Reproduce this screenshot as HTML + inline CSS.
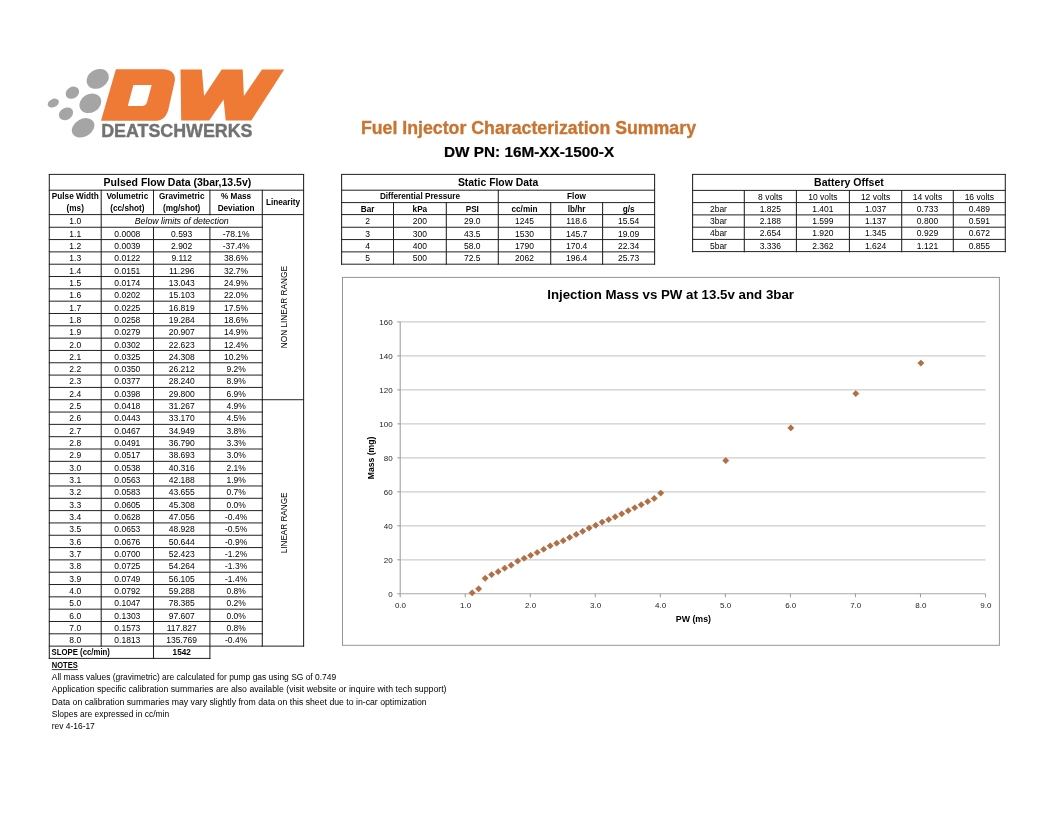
<!DOCTYPE html>
<html><head><meta charset="utf-8"><title>Fuel Injector Characterization Summary</title>
<style>
html,body{margin:0;padding:0;background:#fff;}
body{width:1056px;height:816px;overflow:hidden;}
svg{display:block;font-family:"Liberation Sans",Arial,sans-serif;}
</style></head><body>
<svg width="1056" height="816" viewBox="0 0 1056 816">
<rect width="1056" height="816" fill="#fff"/>
<ellipse cx="97.7" cy="78.9" rx="11.6" ry="9.3" fill="#a5a5a5" transform="rotate(-30 97.7 78.9)"/>
<ellipse cx="72.4" cy="92.7" rx="7.1" ry="5.7" fill="#a5a5a5" transform="rotate(-30 72.4 92.7)"/>
<ellipse cx="53.3" cy="103.1" rx="5.9" ry="4.1" fill="#a5a5a5" transform="rotate(-25 53.3 103.1)"/>
<ellipse cx="90.3" cy="103.3" rx="11.4" ry="9.2" fill="#a5a5a5" transform="rotate(-30 90.3 103.3)"/>
<ellipse cx="66" cy="113.8" rx="7.5" ry="5.9" fill="#a5a5a5" transform="rotate(-30 66 113.8)"/>
<ellipse cx="83.1" cy="127.8" rx="12" ry="8.8" fill="#a5a5a5" transform="rotate(-30 83.1 127.8)"/>
<path d="M115.9 69.2 L163.2 69.2 C171.5 69.2 176.2 74.5 174.7 81.6 L168.6 108.5 C167.2 115.5 162.8 120.8 156.5 120.8 L101.0 120.8 Z M133.4 85.0 L151.7 85.0 L147.2 101.5 C146.6 104.2 145.0 105.9 142.5 105.9 L127.8 105.9 Z" fill="#ee7a36" fill-rule="evenodd"/>
<path d="M180.5 69.4 L201.8 69.4 L204.1 96.0 L221.7 69.4 L242.7 69.4 L243.9 96.0 L262.0 69.4 L284.2 69.4 L251.3 120.5 L225.7 120.5 L223.6 99.5 L209.2 120.5 L181.2 120.5 Z" fill="#ee7a36"/>
<text x="101.2" y="136.8" font-size="18" font-weight="bold" fill="#717371" textLength="151.3" lengthAdjust="spacingAndGlyphs" stroke="#717371" stroke-width="0.4">DEATSCHWERKS</text>
<text x="360.9" y="134.4" font-size="18" font-weight="bold" fill="#c97430" textLength="335.1" lengthAdjust="spacingAndGlyphs" stroke="#c97430" stroke-width="0.35">Fuel Injector Characterization Summary</text>
<text x="444" y="156.7" font-size="14.3" font-weight="bold" textLength="170.2" lengthAdjust="spacingAndGlyphs" stroke="#000" stroke-width="0.2">DW PN: 16M-XX-1500-X</text>
<line x1="49.3" y1="174.4" x2="303.6" y2="174.4" stroke="#222222" stroke-width="1" stroke-linecap="square"/>
<line x1="49.3" y1="190.2" x2="303.6" y2="190.2" stroke="#222222" stroke-width="1" stroke-linecap="square"/>
<line x1="49.3" y1="214.6" x2="303.6" y2="214.6" stroke="#222222" stroke-width="1" stroke-linecap="square"/>
<line x1="49.3" y1="227.25" x2="262.3" y2="227.25" stroke="#222222" stroke-width="1" stroke-linecap="square"/>
<line x1="49.3" y1="239.57" x2="262.3" y2="239.57" stroke="#222222" stroke-width="1" stroke-linecap="square"/>
<line x1="49.3" y1="251.89" x2="262.3" y2="251.89" stroke="#222222" stroke-width="1" stroke-linecap="square"/>
<line x1="49.3" y1="264.21" x2="262.3" y2="264.21" stroke="#222222" stroke-width="1" stroke-linecap="square"/>
<line x1="49.3" y1="276.53" x2="262.3" y2="276.53" stroke="#222222" stroke-width="1" stroke-linecap="square"/>
<line x1="49.3" y1="288.85" x2="262.3" y2="288.85" stroke="#222222" stroke-width="1" stroke-linecap="square"/>
<line x1="49.3" y1="301.17" x2="262.3" y2="301.17" stroke="#222222" stroke-width="1" stroke-linecap="square"/>
<line x1="49.3" y1="313.49" x2="262.3" y2="313.49" stroke="#222222" stroke-width="1" stroke-linecap="square"/>
<line x1="49.3" y1="325.81" x2="262.3" y2="325.81" stroke="#222222" stroke-width="1" stroke-linecap="square"/>
<line x1="49.3" y1="338.13" x2="262.3" y2="338.13" stroke="#222222" stroke-width="1" stroke-linecap="square"/>
<line x1="49.3" y1="350.45" x2="262.3" y2="350.45" stroke="#222222" stroke-width="1" stroke-linecap="square"/>
<line x1="49.3" y1="362.77" x2="262.3" y2="362.77" stroke="#222222" stroke-width="1" stroke-linecap="square"/>
<line x1="49.3" y1="375.09" x2="262.3" y2="375.09" stroke="#222222" stroke-width="1" stroke-linecap="square"/>
<line x1="49.3" y1="387.41" x2="262.3" y2="387.41" stroke="#222222" stroke-width="1" stroke-linecap="square"/>
<line x1="49.3" y1="399.73" x2="262.3" y2="399.73" stroke="#222222" stroke-width="1" stroke-linecap="square"/>
<line x1="49.3" y1="412.05" x2="262.3" y2="412.05" stroke="#222222" stroke-width="1" stroke-linecap="square"/>
<line x1="49.3" y1="424.37" x2="262.3" y2="424.37" stroke="#222222" stroke-width="1" stroke-linecap="square"/>
<line x1="49.3" y1="436.69" x2="262.3" y2="436.69" stroke="#222222" stroke-width="1" stroke-linecap="square"/>
<line x1="49.3" y1="449.01" x2="262.3" y2="449.01" stroke="#222222" stroke-width="1" stroke-linecap="square"/>
<line x1="49.3" y1="461.33" x2="262.3" y2="461.33" stroke="#222222" stroke-width="1" stroke-linecap="square"/>
<line x1="49.3" y1="473.65" x2="262.3" y2="473.65" stroke="#222222" stroke-width="1" stroke-linecap="square"/>
<line x1="49.3" y1="485.97" x2="262.3" y2="485.97" stroke="#222222" stroke-width="1" stroke-linecap="square"/>
<line x1="49.3" y1="498.29" x2="262.3" y2="498.29" stroke="#222222" stroke-width="1" stroke-linecap="square"/>
<line x1="49.3" y1="510.61" x2="262.3" y2="510.61" stroke="#222222" stroke-width="1" stroke-linecap="square"/>
<line x1="49.3" y1="522.93" x2="262.3" y2="522.93" stroke="#222222" stroke-width="1" stroke-linecap="square"/>
<line x1="49.3" y1="535.25" x2="262.3" y2="535.25" stroke="#222222" stroke-width="1" stroke-linecap="square"/>
<line x1="49.3" y1="547.57" x2="262.3" y2="547.57" stroke="#222222" stroke-width="1" stroke-linecap="square"/>
<line x1="49.3" y1="559.89" x2="262.3" y2="559.89" stroke="#222222" stroke-width="1" stroke-linecap="square"/>
<line x1="49.3" y1="572.21" x2="262.3" y2="572.21" stroke="#222222" stroke-width="1" stroke-linecap="square"/>
<line x1="49.3" y1="584.53" x2="262.3" y2="584.53" stroke="#222222" stroke-width="1" stroke-linecap="square"/>
<line x1="49.3" y1="596.85" x2="262.3" y2="596.85" stroke="#222222" stroke-width="1" stroke-linecap="square"/>
<line x1="49.3" y1="609.17" x2="262.3" y2="609.17" stroke="#222222" stroke-width="1" stroke-linecap="square"/>
<line x1="49.3" y1="621.49" x2="262.3" y2="621.49" stroke="#222222" stroke-width="1" stroke-linecap="square"/>
<line x1="49.3" y1="633.81" x2="262.3" y2="633.81" stroke="#222222" stroke-width="1" stroke-linecap="square"/>
<line x1="49.3" y1="646.13" x2="303.6" y2="646.13" stroke="#222222" stroke-width="1" stroke-linecap="square"/>
<line x1="49.3" y1="658.4" x2="209.9" y2="658.4" stroke="#222222" stroke-width="1" stroke-linecap="square"/>
<line x1="262.3" y1="399.73" x2="303.6" y2="399.73" stroke="#222222" stroke-width="1" stroke-linecap="square"/>
<line x1="49.3" y1="174.4" x2="49.3" y2="658.4" stroke="#222222" stroke-width="1.05" stroke-linecap="square"/>
<line x1="303.6" y1="174.4" x2="303.6" y2="646.13" stroke="#222222" stroke-width="1.05" stroke-linecap="square"/>
<line x1="101.2" y1="190.2" x2="101.2" y2="646.13" stroke="#222222" stroke-width="1.05" stroke-linecap="square"/>
<line x1="153.5" y1="190.2" x2="153.5" y2="214.6" stroke="#222222" stroke-width="1.05" stroke-linecap="square"/>
<line x1="153.5" y1="227.25" x2="153.5" y2="658.4" stroke="#222222" stroke-width="1.05" stroke-linecap="square"/>
<line x1="209.9" y1="190.2" x2="209.9" y2="214.6" stroke="#222222" stroke-width="1.05" stroke-linecap="square"/>
<line x1="209.9" y1="227.25" x2="209.9" y2="658.4" stroke="#222222" stroke-width="1.05" stroke-linecap="square"/>
<line x1="262.3" y1="190.2" x2="262.3" y2="646.13" stroke="#222222" stroke-width="1.05" stroke-linecap="square"/>
<text x="177.45" y="185.6" font-size="10.5" text-anchor="middle" font-weight="bold" textLength="147.7" lengthAdjust="spacingAndGlyphs">Pulsed Flow Data (3bar,13.5v)</text>
<text x="75.25" y="199" font-size="8.2" text-anchor="middle" font-weight="bold">Pulse Width</text>
<text x="75.25" y="211.3" font-size="8.2" text-anchor="middle" font-weight="bold">(ms)</text>
<text x="127.35" y="199" font-size="8.2" text-anchor="middle" font-weight="bold">Volumetric</text>
<text x="127.35" y="211.3" font-size="8.2" text-anchor="middle" font-weight="bold">(cc/shot)</text>
<text x="181.7" y="199" font-size="8.2" text-anchor="middle" font-weight="bold">Gravimetric</text>
<text x="181.7" y="211.3" font-size="8.2" text-anchor="middle" font-weight="bold">(mg/shot)</text>
<text x="236.1" y="199" font-size="8.2" text-anchor="middle" font-weight="bold">% Mass</text>
<text x="236.1" y="211.3" font-size="8.2" text-anchor="middle" font-weight="bold">Deviation</text>
<text x="282.95" y="205" font-size="8.2" text-anchor="middle" font-weight="bold">Linearity</text>
<text x="75.25" y="224.05" font-size="8.5" text-anchor="middle">1.0</text>
<text x="181.75" y="224.05" font-size="8.5" text-anchor="middle" font-style="italic" textLength="94" lengthAdjust="spacingAndGlyphs">Below limits of detection</text>
<text x="75.25" y="236.62" font-size="8.5" text-anchor="middle">1.1</text>
<text x="127.35" y="236.62" font-size="8.5" text-anchor="middle">0.0008</text>
<text x="181.7" y="236.62" font-size="8.5" text-anchor="middle">0.593</text>
<text x="236.1" y="236.62" font-size="8.5" text-anchor="middle">-78.1%</text>
<text x="75.25" y="248.94" font-size="8.5" text-anchor="middle">1.2</text>
<text x="127.35" y="248.94" font-size="8.5" text-anchor="middle">0.0039</text>
<text x="181.7" y="248.94" font-size="8.5" text-anchor="middle">2.902</text>
<text x="236.1" y="248.94" font-size="8.5" text-anchor="middle">-37.4%</text>
<text x="75.25" y="261.26" font-size="8.5" text-anchor="middle">1.3</text>
<text x="127.35" y="261.26" font-size="8.5" text-anchor="middle">0.0122</text>
<text x="181.7" y="261.26" font-size="8.5" text-anchor="middle">9.112</text>
<text x="236.1" y="261.26" font-size="8.5" text-anchor="middle">38.6%</text>
<text x="75.25" y="273.58" font-size="8.5" text-anchor="middle">1.4</text>
<text x="127.35" y="273.58" font-size="8.5" text-anchor="middle">0.0151</text>
<text x="181.7" y="273.58" font-size="8.5" text-anchor="middle">11.296</text>
<text x="236.1" y="273.58" font-size="8.5" text-anchor="middle">32.7%</text>
<text x="75.25" y="285.9" font-size="8.5" text-anchor="middle">1.5</text>
<text x="127.35" y="285.9" font-size="8.5" text-anchor="middle">0.0174</text>
<text x="181.7" y="285.9" font-size="8.5" text-anchor="middle">13.043</text>
<text x="236.1" y="285.9" font-size="8.5" text-anchor="middle">24.9%</text>
<text x="75.25" y="298.22" font-size="8.5" text-anchor="middle">1.6</text>
<text x="127.35" y="298.22" font-size="8.5" text-anchor="middle">0.0202</text>
<text x="181.7" y="298.22" font-size="8.5" text-anchor="middle">15.103</text>
<text x="236.1" y="298.22" font-size="8.5" text-anchor="middle">22.0%</text>
<text x="75.25" y="310.54" font-size="8.5" text-anchor="middle">1.7</text>
<text x="127.35" y="310.54" font-size="8.5" text-anchor="middle">0.0225</text>
<text x="181.7" y="310.54" font-size="8.5" text-anchor="middle">16.819</text>
<text x="236.1" y="310.54" font-size="8.5" text-anchor="middle">17.5%</text>
<text x="75.25" y="322.86" font-size="8.5" text-anchor="middle">1.8</text>
<text x="127.35" y="322.86" font-size="8.5" text-anchor="middle">0.0258</text>
<text x="181.7" y="322.86" font-size="8.5" text-anchor="middle">19.284</text>
<text x="236.1" y="322.86" font-size="8.5" text-anchor="middle">18.6%</text>
<text x="75.25" y="335.18" font-size="8.5" text-anchor="middle">1.9</text>
<text x="127.35" y="335.18" font-size="8.5" text-anchor="middle">0.0279</text>
<text x="181.7" y="335.18" font-size="8.5" text-anchor="middle">20.907</text>
<text x="236.1" y="335.18" font-size="8.5" text-anchor="middle">14.9%</text>
<text x="75.25" y="347.5" font-size="8.5" text-anchor="middle">2.0</text>
<text x="127.35" y="347.5" font-size="8.5" text-anchor="middle">0.0302</text>
<text x="181.7" y="347.5" font-size="8.5" text-anchor="middle">22.623</text>
<text x="236.1" y="347.5" font-size="8.5" text-anchor="middle">12.4%</text>
<text x="75.25" y="359.82" font-size="8.5" text-anchor="middle">2.1</text>
<text x="127.35" y="359.82" font-size="8.5" text-anchor="middle">0.0325</text>
<text x="181.7" y="359.82" font-size="8.5" text-anchor="middle">24.308</text>
<text x="236.1" y="359.82" font-size="8.5" text-anchor="middle">10.2%</text>
<text x="75.25" y="372.14" font-size="8.5" text-anchor="middle">2.2</text>
<text x="127.35" y="372.14" font-size="8.5" text-anchor="middle">0.0350</text>
<text x="181.7" y="372.14" font-size="8.5" text-anchor="middle">26.212</text>
<text x="236.1" y="372.14" font-size="8.5" text-anchor="middle">9.2%</text>
<text x="75.25" y="384.46" font-size="8.5" text-anchor="middle">2.3</text>
<text x="127.35" y="384.46" font-size="8.5" text-anchor="middle">0.0377</text>
<text x="181.7" y="384.46" font-size="8.5" text-anchor="middle">28.240</text>
<text x="236.1" y="384.46" font-size="8.5" text-anchor="middle">8.9%</text>
<text x="75.25" y="396.78" font-size="8.5" text-anchor="middle">2.4</text>
<text x="127.35" y="396.78" font-size="8.5" text-anchor="middle">0.0398</text>
<text x="181.7" y="396.78" font-size="8.5" text-anchor="middle">29.800</text>
<text x="236.1" y="396.78" font-size="8.5" text-anchor="middle">6.9%</text>
<text x="75.25" y="409.1" font-size="8.5" text-anchor="middle">2.5</text>
<text x="127.35" y="409.1" font-size="8.5" text-anchor="middle">0.0418</text>
<text x="181.7" y="409.1" font-size="8.5" text-anchor="middle">31.267</text>
<text x="236.1" y="409.1" font-size="8.5" text-anchor="middle">4.9%</text>
<text x="75.25" y="421.42" font-size="8.5" text-anchor="middle">2.6</text>
<text x="127.35" y="421.42" font-size="8.5" text-anchor="middle">0.0443</text>
<text x="181.7" y="421.42" font-size="8.5" text-anchor="middle">33.170</text>
<text x="236.1" y="421.42" font-size="8.5" text-anchor="middle">4.5%</text>
<text x="75.25" y="433.74" font-size="8.5" text-anchor="middle">2.7</text>
<text x="127.35" y="433.74" font-size="8.5" text-anchor="middle">0.0467</text>
<text x="181.7" y="433.74" font-size="8.5" text-anchor="middle">34.949</text>
<text x="236.1" y="433.74" font-size="8.5" text-anchor="middle">3.8%</text>
<text x="75.25" y="446.06" font-size="8.5" text-anchor="middle">2.8</text>
<text x="127.35" y="446.06" font-size="8.5" text-anchor="middle">0.0491</text>
<text x="181.7" y="446.06" font-size="8.5" text-anchor="middle">36.790</text>
<text x="236.1" y="446.06" font-size="8.5" text-anchor="middle">3.3%</text>
<text x="75.25" y="458.38" font-size="8.5" text-anchor="middle">2.9</text>
<text x="127.35" y="458.38" font-size="8.5" text-anchor="middle">0.0517</text>
<text x="181.7" y="458.38" font-size="8.5" text-anchor="middle">38.693</text>
<text x="236.1" y="458.38" font-size="8.5" text-anchor="middle">3.0%</text>
<text x="75.25" y="470.7" font-size="8.5" text-anchor="middle">3.0</text>
<text x="127.35" y="470.7" font-size="8.5" text-anchor="middle">0.0538</text>
<text x="181.7" y="470.7" font-size="8.5" text-anchor="middle">40.316</text>
<text x="236.1" y="470.7" font-size="8.5" text-anchor="middle">2.1%</text>
<text x="75.25" y="483.02" font-size="8.5" text-anchor="middle">3.1</text>
<text x="127.35" y="483.02" font-size="8.5" text-anchor="middle">0.0563</text>
<text x="181.7" y="483.02" font-size="8.5" text-anchor="middle">42.188</text>
<text x="236.1" y="483.02" font-size="8.5" text-anchor="middle">1.9%</text>
<text x="75.25" y="495.34" font-size="8.5" text-anchor="middle">3.2</text>
<text x="127.35" y="495.34" font-size="8.5" text-anchor="middle">0.0583</text>
<text x="181.7" y="495.34" font-size="8.5" text-anchor="middle">43.655</text>
<text x="236.1" y="495.34" font-size="8.5" text-anchor="middle">0.7%</text>
<text x="75.25" y="507.66" font-size="8.5" text-anchor="middle">3.3</text>
<text x="127.35" y="507.66" font-size="8.5" text-anchor="middle">0.0605</text>
<text x="181.7" y="507.66" font-size="8.5" text-anchor="middle">45.308</text>
<text x="236.1" y="507.66" font-size="8.5" text-anchor="middle">0.0%</text>
<text x="75.25" y="519.98" font-size="8.5" text-anchor="middle">3.4</text>
<text x="127.35" y="519.98" font-size="8.5" text-anchor="middle">0.0628</text>
<text x="181.7" y="519.98" font-size="8.5" text-anchor="middle">47.056</text>
<text x="236.1" y="519.98" font-size="8.5" text-anchor="middle">-0.4%</text>
<text x="75.25" y="532.3" font-size="8.5" text-anchor="middle">3.5</text>
<text x="127.35" y="532.3" font-size="8.5" text-anchor="middle">0.0653</text>
<text x="181.7" y="532.3" font-size="8.5" text-anchor="middle">48.928</text>
<text x="236.1" y="532.3" font-size="8.5" text-anchor="middle">-0.5%</text>
<text x="75.25" y="544.62" font-size="8.5" text-anchor="middle">3.6</text>
<text x="127.35" y="544.62" font-size="8.5" text-anchor="middle">0.0676</text>
<text x="181.7" y="544.62" font-size="8.5" text-anchor="middle">50.644</text>
<text x="236.1" y="544.62" font-size="8.5" text-anchor="middle">-0.9%</text>
<text x="75.25" y="556.94" font-size="8.5" text-anchor="middle">3.7</text>
<text x="127.35" y="556.94" font-size="8.5" text-anchor="middle">0.0700</text>
<text x="181.7" y="556.94" font-size="8.5" text-anchor="middle">52.423</text>
<text x="236.1" y="556.94" font-size="8.5" text-anchor="middle">-1.2%</text>
<text x="75.25" y="569.26" font-size="8.5" text-anchor="middle">3.8</text>
<text x="127.35" y="569.26" font-size="8.5" text-anchor="middle">0.0725</text>
<text x="181.7" y="569.26" font-size="8.5" text-anchor="middle">54.264</text>
<text x="236.1" y="569.26" font-size="8.5" text-anchor="middle">-1.3%</text>
<text x="75.25" y="581.58" font-size="8.5" text-anchor="middle">3.9</text>
<text x="127.35" y="581.58" font-size="8.5" text-anchor="middle">0.0749</text>
<text x="181.7" y="581.58" font-size="8.5" text-anchor="middle">56.105</text>
<text x="236.1" y="581.58" font-size="8.5" text-anchor="middle">-1.4%</text>
<text x="75.25" y="593.9" font-size="8.5" text-anchor="middle">4.0</text>
<text x="127.35" y="593.9" font-size="8.5" text-anchor="middle">0.0792</text>
<text x="181.7" y="593.9" font-size="8.5" text-anchor="middle">59.288</text>
<text x="236.1" y="593.9" font-size="8.5" text-anchor="middle">0.8%</text>
<text x="75.25" y="606.22" font-size="8.5" text-anchor="middle">5.0</text>
<text x="127.35" y="606.22" font-size="8.5" text-anchor="middle">0.1047</text>
<text x="181.7" y="606.22" font-size="8.5" text-anchor="middle">78.385</text>
<text x="236.1" y="606.22" font-size="8.5" text-anchor="middle">0.2%</text>
<text x="75.25" y="618.54" font-size="8.5" text-anchor="middle">6.0</text>
<text x="127.35" y="618.54" font-size="8.5" text-anchor="middle">0.1303</text>
<text x="181.7" y="618.54" font-size="8.5" text-anchor="middle">97.607</text>
<text x="236.1" y="618.54" font-size="8.5" text-anchor="middle">0.0%</text>
<text x="75.25" y="630.86" font-size="8.5" text-anchor="middle">7.0</text>
<text x="127.35" y="630.86" font-size="8.5" text-anchor="middle">0.1573</text>
<text x="181.7" y="630.86" font-size="8.5" text-anchor="middle">117.827</text>
<text x="236.1" y="630.86" font-size="8.5" text-anchor="middle">0.8%</text>
<text x="75.25" y="643.18" font-size="8.5" text-anchor="middle">8.0</text>
<text x="127.35" y="643.18" font-size="8.5" text-anchor="middle">0.1813</text>
<text x="181.7" y="643.18" font-size="8.5" text-anchor="middle">135.769</text>
<text x="236.1" y="643.18" font-size="8.5" text-anchor="middle">-0.4%</text>
<text x="51.6" y="655.4" font-size="8.2" font-weight="bold" textLength="58.3" lengthAdjust="spacingAndGlyphs">SLOPE (cc/min)</text>
<text x="181.7" y="655.4" font-size="8.2" text-anchor="middle" font-weight="bold">1542</text>
<text x="0" y="0" font-size="8.2" text-anchor="middle" textLength="82.2" lengthAdjust="spacingAndGlyphs" transform="translate(286.6 307.17) rotate(-90)">NON LINEAR RANGE</text>
<text x="0" y="0" font-size="8.2" text-anchor="middle" textLength="60.7" lengthAdjust="spacingAndGlyphs" transform="translate(286.6 522.93) rotate(-90)">LINEAR RANGE</text>
<line x1="341.6" y1="174.4" x2="654.6" y2="174.4" stroke="#222222" stroke-width="1" stroke-linecap="square"/>
<line x1="341.6" y1="190.2" x2="654.6" y2="190.2" stroke="#222222" stroke-width="1" stroke-linecap="square"/>
<line x1="341.6" y1="202.6" x2="654.6" y2="202.6" stroke="#222222" stroke-width="1" stroke-linecap="square"/>
<line x1="341.6" y1="214.6" x2="654.6" y2="214.6" stroke="#222222" stroke-width="1" stroke-linecap="square"/>
<line x1="341.6" y1="227.25" x2="654.6" y2="227.25" stroke="#222222" stroke-width="1" stroke-linecap="square"/>
<line x1="341.6" y1="239.57" x2="654.6" y2="239.57" stroke="#222222" stroke-width="1" stroke-linecap="square"/>
<line x1="341.6" y1="251.89" x2="654.6" y2="251.89" stroke="#222222" stroke-width="1" stroke-linecap="square"/>
<line x1="341.6" y1="264.2" x2="654.6" y2="264.2" stroke="#222222" stroke-width="1" stroke-linecap="square"/>
<line x1="341.6" y1="174.4" x2="341.6" y2="264.2" stroke="#222222" stroke-width="1.05" stroke-linecap="square"/>
<line x1="654.6" y1="174.4" x2="654.6" y2="264.2" stroke="#222222" stroke-width="1.05" stroke-linecap="square"/>
<line x1="498.3" y1="190.2" x2="498.3" y2="264.2" stroke="#222222" stroke-width="1.05" stroke-linecap="square"/>
<line x1="393.5" y1="202.6" x2="393.5" y2="264.2" stroke="#222222" stroke-width="1.05" stroke-linecap="square"/>
<line x1="446.3" y1="202.6" x2="446.3" y2="264.2" stroke="#222222" stroke-width="1.05" stroke-linecap="square"/>
<line x1="550.7" y1="202.6" x2="550.7" y2="264.2" stroke="#222222" stroke-width="1.05" stroke-linecap="square"/>
<line x1="602.6" y1="202.6" x2="602.6" y2="264.2" stroke="#222222" stroke-width="1.05" stroke-linecap="square"/>
<text x="498.1" y="186" font-size="10.5" text-anchor="middle" font-weight="bold" textLength="80.3" lengthAdjust="spacingAndGlyphs">Static Flow Data</text>
<text x="419.95" y="199.4" font-size="8.2" text-anchor="middle" font-weight="bold">Differential Pressure</text>
<text x="576.45" y="199.4" font-size="8.2" text-anchor="middle" font-weight="bold">Flow</text>
<text x="367.55" y="211.6" font-size="8.2" text-anchor="middle" font-weight="bold">Bar</text>
<text x="419.9" y="211.6" font-size="8.2" text-anchor="middle" font-weight="bold">kPa</text>
<text x="472.3" y="211.6" font-size="8.2" text-anchor="middle" font-weight="bold">PSI</text>
<text x="524.5" y="211.6" font-size="8.2" text-anchor="middle" font-weight="bold">cc/min</text>
<text x="576.65" y="211.6" font-size="8.2" text-anchor="middle" font-weight="bold">lb/hr</text>
<text x="628.6" y="211.6" font-size="8.2" text-anchor="middle" font-weight="bold">g/s</text>
<text x="367.55" y="224.25" font-size="8.5" text-anchor="middle">2</text>
<text x="419.9" y="224.25" font-size="8.5" text-anchor="middle">200</text>
<text x="472.3" y="224.25" font-size="8.5" text-anchor="middle">29.0</text>
<text x="524.5" y="224.25" font-size="8.5" text-anchor="middle">1245</text>
<text x="576.65" y="224.25" font-size="8.5" text-anchor="middle">118.6</text>
<text x="628.6" y="224.25" font-size="8.5" text-anchor="middle">15.54</text>
<text x="367.55" y="236.57" font-size="8.5" text-anchor="middle">3</text>
<text x="419.9" y="236.57" font-size="8.5" text-anchor="middle">300</text>
<text x="472.3" y="236.57" font-size="8.5" text-anchor="middle">43.5</text>
<text x="524.5" y="236.57" font-size="8.5" text-anchor="middle">1530</text>
<text x="576.65" y="236.57" font-size="8.5" text-anchor="middle">145.7</text>
<text x="628.6" y="236.57" font-size="8.5" text-anchor="middle">19.09</text>
<text x="367.55" y="248.89" font-size="8.5" text-anchor="middle">4</text>
<text x="419.9" y="248.89" font-size="8.5" text-anchor="middle">400</text>
<text x="472.3" y="248.89" font-size="8.5" text-anchor="middle">58.0</text>
<text x="524.5" y="248.89" font-size="8.5" text-anchor="middle">1790</text>
<text x="576.65" y="248.89" font-size="8.5" text-anchor="middle">170.4</text>
<text x="628.6" y="248.89" font-size="8.5" text-anchor="middle">22.34</text>
<text x="367.55" y="261.2" font-size="8.5" text-anchor="middle">5</text>
<text x="419.9" y="261.2" font-size="8.5" text-anchor="middle">500</text>
<text x="472.3" y="261.2" font-size="8.5" text-anchor="middle">72.5</text>
<text x="524.5" y="261.2" font-size="8.5" text-anchor="middle">2062</text>
<text x="576.65" y="261.2" font-size="8.5" text-anchor="middle">196.4</text>
<text x="628.6" y="261.2" font-size="8.5" text-anchor="middle">25.73</text>
<line x1="692.6" y1="174.4" x2="1005.3" y2="174.4" stroke="#222222" stroke-width="1" stroke-linecap="square"/>
<line x1="692.6" y1="190.4" x2="1005.3" y2="190.4" stroke="#222222" stroke-width="1" stroke-linecap="square"/>
<line x1="692.6" y1="202.6" x2="1005.3" y2="202.6" stroke="#222222" stroke-width="1" stroke-linecap="square"/>
<line x1="692.6" y1="214.9" x2="1005.3" y2="214.9" stroke="#222222" stroke-width="1" stroke-linecap="square"/>
<line x1="692.6" y1="227.2" x2="1005.3" y2="227.2" stroke="#222222" stroke-width="1" stroke-linecap="square"/>
<line x1="692.6" y1="239.4" x2="1005.3" y2="239.4" stroke="#222222" stroke-width="1" stroke-linecap="square"/>
<line x1="692.6" y1="251.6" x2="1005.3" y2="251.6" stroke="#222222" stroke-width="1" stroke-linecap="square"/>
<line x1="692.6" y1="174.4" x2="692.6" y2="251.6" stroke="#222222" stroke-width="1.05" stroke-linecap="square"/>
<line x1="1005.3" y1="174.4" x2="1005.3" y2="251.6" stroke="#222222" stroke-width="1.05" stroke-linecap="square"/>
<line x1="744.3" y1="190.4" x2="744.3" y2="251.6" stroke="#222222" stroke-width="1.05" stroke-linecap="square"/>
<line x1="796.4" y1="190.4" x2="796.4" y2="251.6" stroke="#222222" stroke-width="1.05" stroke-linecap="square"/>
<line x1="849.4" y1="190.4" x2="849.4" y2="251.6" stroke="#222222" stroke-width="1.05" stroke-linecap="square"/>
<line x1="901.7" y1="190.4" x2="901.7" y2="251.6" stroke="#222222" stroke-width="1.05" stroke-linecap="square"/>
<line x1="953.3" y1="190.4" x2="953.3" y2="251.6" stroke="#222222" stroke-width="1.05" stroke-linecap="square"/>
<text x="848.95" y="186" font-size="10.5" text-anchor="middle" font-weight="bold" textLength="69.7" lengthAdjust="spacingAndGlyphs">Battery Offset</text>
<text x="770.35" y="199.6" font-size="8.5" text-anchor="middle">8 volts</text>
<text x="822.9" y="199.6" font-size="8.5" text-anchor="middle">10 volts</text>
<text x="875.55" y="199.6" font-size="8.5" text-anchor="middle">12 volts</text>
<text x="927.5" y="199.6" font-size="8.5" text-anchor="middle">14 volts</text>
<text x="979.3" y="199.6" font-size="8.5" text-anchor="middle">16 volts</text>
<text x="718.45" y="211.9" font-size="8.5" text-anchor="middle">2bar</text>
<text x="770.35" y="211.9" font-size="8.5" text-anchor="middle">1.825</text>
<text x="822.9" y="211.9" font-size="8.5" text-anchor="middle">1.401</text>
<text x="875.55" y="211.9" font-size="8.5" text-anchor="middle">1.037</text>
<text x="927.5" y="211.9" font-size="8.5" text-anchor="middle">0.733</text>
<text x="979.3" y="211.9" font-size="8.5" text-anchor="middle">0.489</text>
<text x="718.45" y="224.2" font-size="8.5" text-anchor="middle">3bar</text>
<text x="770.35" y="224.2" font-size="8.5" text-anchor="middle">2.188</text>
<text x="822.9" y="224.2" font-size="8.5" text-anchor="middle">1.599</text>
<text x="875.55" y="224.2" font-size="8.5" text-anchor="middle">1.137</text>
<text x="927.5" y="224.2" font-size="8.5" text-anchor="middle">0.800</text>
<text x="979.3" y="224.2" font-size="8.5" text-anchor="middle">0.591</text>
<text x="718.45" y="236.4" font-size="8.5" text-anchor="middle">4bar</text>
<text x="770.35" y="236.4" font-size="8.5" text-anchor="middle">2.654</text>
<text x="822.9" y="236.4" font-size="8.5" text-anchor="middle">1.920</text>
<text x="875.55" y="236.4" font-size="8.5" text-anchor="middle">1.345</text>
<text x="927.5" y="236.4" font-size="8.5" text-anchor="middle">0.929</text>
<text x="979.3" y="236.4" font-size="8.5" text-anchor="middle">0.672</text>
<text x="718.45" y="248.6" font-size="8.5" text-anchor="middle">5bar</text>
<text x="770.35" y="248.6" font-size="8.5" text-anchor="middle">3.336</text>
<text x="822.9" y="248.6" font-size="8.5" text-anchor="middle">2.362</text>
<text x="875.55" y="248.6" font-size="8.5" text-anchor="middle">1.624</text>
<text x="927.5" y="248.6" font-size="8.5" text-anchor="middle">1.121</text>
<text x="979.3" y="248.6" font-size="8.5" text-anchor="middle">0.855</text>
<rect x="342.5" y="277.4" width="656.9" height="367.9" fill="none" stroke="#959595" stroke-width="1"/>
<line x1="400.2" y1="559.81" x2="985.5" y2="559.81" stroke="#cdcdcd" stroke-width="1.2"/>
<line x1="400.2" y1="525.82" x2="985.5" y2="525.82" stroke="#cdcdcd" stroke-width="1.2"/>
<line x1="400.2" y1="491.84" x2="985.5" y2="491.84" stroke="#cdcdcd" stroke-width="1.2"/>
<line x1="400.2" y1="457.85" x2="985.5" y2="457.85" stroke="#cdcdcd" stroke-width="1.2"/>
<line x1="400.2" y1="423.86" x2="985.5" y2="423.86" stroke="#cdcdcd" stroke-width="1.2"/>
<line x1="400.2" y1="389.88" x2="985.5" y2="389.88" stroke="#cdcdcd" stroke-width="1.2"/>
<line x1="400.2" y1="355.89" x2="985.5" y2="355.89" stroke="#cdcdcd" stroke-width="1.2"/>
<line x1="400.2" y1="321.9" x2="985.5" y2="321.9" stroke="#cdcdcd" stroke-width="1.2"/>
<line x1="400.2" y1="321.9" x2="400.2" y2="593.8" stroke="#999" stroke-width="1"/>
<line x1="400.2" y1="593.8" x2="985.5" y2="593.8" stroke="#a8a8a8" stroke-width="1.1"/>
<line x1="397.2" y1="593.8" x2="400.2" y2="593.8" stroke="#999" stroke-width="1"/>
<text x="392.6" y="596.7" font-size="8" text-anchor="end" fill="#222">0</text>
<line x1="397.2" y1="559.81" x2="400.2" y2="559.81" stroke="#999" stroke-width="1"/>
<text x="392.6" y="562.71" font-size="8" text-anchor="end" fill="#222">20</text>
<line x1="397.2" y1="525.82" x2="400.2" y2="525.82" stroke="#999" stroke-width="1"/>
<text x="392.6" y="528.72" font-size="8" text-anchor="end" fill="#222">40</text>
<line x1="397.2" y1="491.84" x2="400.2" y2="491.84" stroke="#999" stroke-width="1"/>
<text x="392.6" y="494.74" font-size="8" text-anchor="end" fill="#222">60</text>
<line x1="397.2" y1="457.85" x2="400.2" y2="457.85" stroke="#999" stroke-width="1"/>
<text x="392.6" y="460.75" font-size="8" text-anchor="end" fill="#222">80</text>
<line x1="397.2" y1="423.86" x2="400.2" y2="423.86" stroke="#999" stroke-width="1"/>
<text x="392.6" y="426.76" font-size="8" text-anchor="end" fill="#222">100</text>
<line x1="397.2" y1="389.88" x2="400.2" y2="389.88" stroke="#999" stroke-width="1"/>
<text x="392.6" y="392.77" font-size="8" text-anchor="end" fill="#222">120</text>
<line x1="397.2" y1="355.89" x2="400.2" y2="355.89" stroke="#999" stroke-width="1"/>
<text x="392.6" y="358.79" font-size="8" text-anchor="end" fill="#222">140</text>
<line x1="397.2" y1="321.9" x2="400.2" y2="321.9" stroke="#999" stroke-width="1"/>
<text x="392.6" y="324.8" font-size="8" text-anchor="end" fill="#222">160</text>
<line x1="400.2" y1="593.8" x2="400.2" y2="597.3" stroke="#999" stroke-width="1"/>
<text x="400.5" y="608.3" font-size="8" text-anchor="middle" fill="#222">0.0</text>
<line x1="465.23" y1="593.8" x2="465.23" y2="597.3" stroke="#999" stroke-width="1"/>
<text x="465.53" y="608.3" font-size="8" text-anchor="middle" fill="#222">1.0</text>
<line x1="530.27" y1="593.8" x2="530.27" y2="597.3" stroke="#999" stroke-width="1"/>
<text x="530.57" y="608.3" font-size="8" text-anchor="middle" fill="#222">2.0</text>
<line x1="595.3" y1="593.8" x2="595.3" y2="597.3" stroke="#999" stroke-width="1"/>
<text x="595.6" y="608.3" font-size="8" text-anchor="middle" fill="#222">3.0</text>
<line x1="660.33" y1="593.8" x2="660.33" y2="597.3" stroke="#999" stroke-width="1"/>
<text x="660.63" y="608.3" font-size="8" text-anchor="middle" fill="#222">4.0</text>
<line x1="725.37" y1="593.8" x2="725.37" y2="597.3" stroke="#999" stroke-width="1"/>
<text x="725.67" y="608.3" font-size="8" text-anchor="middle" fill="#222">5.0</text>
<line x1="790.4" y1="593.8" x2="790.4" y2="597.3" stroke="#999" stroke-width="1"/>
<text x="790.7" y="608.3" font-size="8" text-anchor="middle" fill="#222">6.0</text>
<line x1="855.43" y1="593.8" x2="855.43" y2="597.3" stroke="#999" stroke-width="1"/>
<text x="855.73" y="608.3" font-size="8" text-anchor="middle" fill="#222">7.0</text>
<line x1="920.47" y1="593.8" x2="920.47" y2="597.3" stroke="#999" stroke-width="1"/>
<text x="920.77" y="608.3" font-size="8" text-anchor="middle" fill="#222">8.0</text>
<line x1="985.5" y1="593.8" x2="985.5" y2="597.3" stroke="#999" stroke-width="1"/>
<text x="985.8" y="608.3" font-size="8" text-anchor="middle" fill="#222">9.0</text>
<text x="670.6" y="299.2" font-size="13.5" text-anchor="middle" font-weight="bold" textLength="246.8" lengthAdjust="spacingAndGlyphs">Injection Mass vs PW at 13.5v and 3bar</text>
<text x="693.4" y="621.9" font-size="8.4" text-anchor="middle" font-weight="bold" textLength="35.2" lengthAdjust="spacingAndGlyphs">PW (ms)</text>
<text x="0" y="0" font-size="8.6" font-weight="bold" text-anchor="middle" textLength="42.6" lengthAdjust="spacingAndGlyphs" transform="translate(374.2 458) rotate(-90)">Mass (mg)</text>
<path d="M472.14 589.69l3.1 3.1l-3.1 3.1l-3.1 -3.1z" fill="#b36e43" stroke="#9c5c37" stroke-width="0.5"/>
<path d="M478.64 585.77l3.1 3.1l-3.1 3.1l-3.1 -3.1z" fill="#b36e43" stroke="#9c5c37" stroke-width="0.5"/>
<path d="M485.14 575.22l3.1 3.1l-3.1 3.1l-3.1 -3.1z" fill="#b36e43" stroke="#9c5c37" stroke-width="0.5"/>
<path d="M491.65 571.5l3.1 3.1l-3.1 3.1l-3.1 -3.1z" fill="#b36e43" stroke="#9c5c37" stroke-width="0.5"/>
<path d="M498.15 568.54l3.1 3.1l-3.1 3.1l-3.1 -3.1z" fill="#b36e43" stroke="#9c5c37" stroke-width="0.5"/>
<path d="M504.65 565.03l3.1 3.1l-3.1 3.1l-3.1 -3.1z" fill="#b36e43" stroke="#9c5c37" stroke-width="0.5"/>
<path d="M511.16 562.12l3.1 3.1l-3.1 3.1l-3.1 -3.1z" fill="#b36e43" stroke="#9c5c37" stroke-width="0.5"/>
<path d="M517.66 557.93l3.1 3.1l-3.1 3.1l-3.1 -3.1z" fill="#b36e43" stroke="#9c5c37" stroke-width="0.5"/>
<path d="M524.16 555.17l3.1 3.1l-3.1 3.1l-3.1 -3.1z" fill="#b36e43" stroke="#9c5c37" stroke-width="0.5"/>
<path d="M530.67 552.26l3.1 3.1l-3.1 3.1l-3.1 -3.1z" fill="#b36e43" stroke="#9c5c37" stroke-width="0.5"/>
<path d="M537.17 549.39l3.1 3.1l-3.1 3.1l-3.1 -3.1z" fill="#b36e43" stroke="#9c5c37" stroke-width="0.5"/>
<path d="M543.67 546.16l3.1 3.1l-3.1 3.1l-3.1 -3.1z" fill="#b36e43" stroke="#9c5c37" stroke-width="0.5"/>
<path d="M550.18 542.71l3.1 3.1l-3.1 3.1l-3.1 -3.1z" fill="#b36e43" stroke="#9c5c37" stroke-width="0.5"/>
<path d="M556.68 540.06l3.1 3.1l-3.1 3.1l-3.1 -3.1z" fill="#b36e43" stroke="#9c5c37" stroke-width="0.5"/>
<path d="M563.18 537.57l3.1 3.1l-3.1 3.1l-3.1 -3.1z" fill="#b36e43" stroke="#9c5c37" stroke-width="0.5"/>
<path d="M569.69 534.33l3.1 3.1l-3.1 3.1l-3.1 -3.1z" fill="#b36e43" stroke="#9c5c37" stroke-width="0.5"/>
<path d="M576.19 531.31l3.1 3.1l-3.1 3.1l-3.1 -3.1z" fill="#b36e43" stroke="#9c5c37" stroke-width="0.5"/>
<path d="M582.69 528.18l3.1 3.1l-3.1 3.1l-3.1 -3.1z" fill="#b36e43" stroke="#9c5c37" stroke-width="0.5"/>
<path d="M589.2 524.95l3.1 3.1l-3.1 3.1l-3.1 -3.1z" fill="#b36e43" stroke="#9c5c37" stroke-width="0.5"/>
<path d="M595.7 522.19l3.1 3.1l-3.1 3.1l-3.1 -3.1z" fill="#b36e43" stroke="#9c5c37" stroke-width="0.5"/>
<path d="M602.2 519.01l3.1 3.1l-3.1 3.1l-3.1 -3.1z" fill="#b36e43" stroke="#9c5c37" stroke-width="0.5"/>
<path d="M608.71 516.51l3.1 3.1l-3.1 3.1l-3.1 -3.1z" fill="#b36e43" stroke="#9c5c37" stroke-width="0.5"/>
<path d="M615.21 513.7l3.1 3.1l-3.1 3.1l-3.1 -3.1z" fill="#b36e43" stroke="#9c5c37" stroke-width="0.5"/>
<path d="M621.71 510.73l3.1 3.1l-3.1 3.1l-3.1 -3.1z" fill="#b36e43" stroke="#9c5c37" stroke-width="0.5"/>
<path d="M628.22 507.55l3.1 3.1l-3.1 3.1l-3.1 -3.1z" fill="#b36e43" stroke="#9c5c37" stroke-width="0.5"/>
<path d="M634.72 504.64l3.1 3.1l-3.1 3.1l-3.1 -3.1z" fill="#b36e43" stroke="#9c5c37" stroke-width="0.5"/>
<path d="M641.22 501.61l3.1 3.1l-3.1 3.1l-3.1 -3.1z" fill="#b36e43" stroke="#9c5c37" stroke-width="0.5"/>
<path d="M647.73 498.49l3.1 3.1l-3.1 3.1l-3.1 -3.1z" fill="#b36e43" stroke="#9c5c37" stroke-width="0.5"/>
<path d="M654.23 495.36l3.1 3.1l-3.1 3.1l-3.1 -3.1z" fill="#b36e43" stroke="#9c5c37" stroke-width="0.5"/>
<path d="M660.73 489.95l3.1 3.1l-3.1 3.1l-3.1 -3.1z" fill="#b36e43" stroke="#9c5c37" stroke-width="0.5"/>
<path d="M725.77 457.49l3.1 3.1l-3.1 3.1l-3.1 -3.1z" fill="#b36e43" stroke="#9c5c37" stroke-width="0.5"/>
<path d="M790.8 424.83l3.1 3.1l-3.1 3.1l-3.1 -3.1z" fill="#b36e43" stroke="#9c5c37" stroke-width="0.5"/>
<path d="M855.83 390.47l3.1 3.1l-3.1 3.1l-3.1 -3.1z" fill="#b36e43" stroke="#9c5c37" stroke-width="0.5"/>
<path d="M920.87 359.98l3.1 3.1l-3.1 3.1l-3.1 -3.1z" fill="#b36e43" stroke="#9c5c37" stroke-width="0.5"/>
<text x="51.8" y="667.9" font-size="8.2" font-weight="bold" textLength="26" lengthAdjust="spacingAndGlyphs">NOTES</text>
<line x1="51.8" y1="669.6" x2="77.8" y2="669.6" stroke="#000" stroke-width="0.8"/>
<text x="51.8" y="680" font-size="8.5" textLength="284.4" lengthAdjust="spacingAndGlyphs">All mass values (gravimetric) are calculated for pump gas using SG of 0.749</text>
<text x="51.8" y="692.3" font-size="8.5" textLength="394.7" lengthAdjust="spacingAndGlyphs">Application specific calibration summaries are also available (visit website or inquire with tech support)</text>
<text x="51.8" y="704.6" font-size="8.5" textLength="374.8" lengthAdjust="spacingAndGlyphs">Data on calibration summaries may vary slightly from data on this sheet due to in-car optimization</text>
<text x="51.8" y="716.9" font-size="8.5" textLength="117.4" lengthAdjust="spacingAndGlyphs">Slopes are expressed in cc/min</text>
<text x="51.8" y="729.2" font-size="8.5" textLength="43" lengthAdjust="spacingAndGlyphs">rev 4-16-17</text>
</svg>
</body></html>
